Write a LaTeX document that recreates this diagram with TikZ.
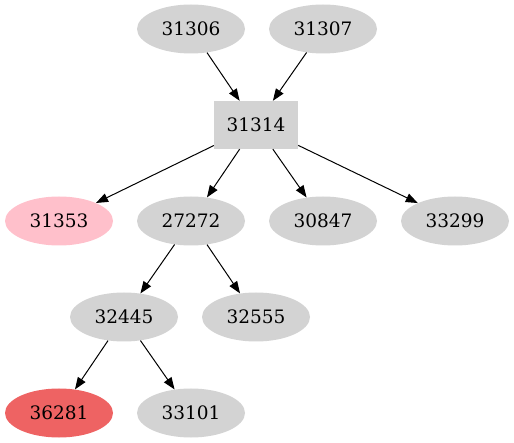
\documentclass[tikz,border=0pt]{standalone}
\usepackage{fontspec}
\setmainfont{DejaVu Serif}
\usetikzlibrary{shapes.geometric,arrows.meta}
\definecolor{ngray}{RGB}{211,211,211}
\definecolor{npink}{RGB}{255,192,203}
\definecolor{nred}{RGB}{238,99,99}
\tikzset{
  ell/.style={ellipse, fill=ngray, minimum width=108pt, minimum height=49pt, inner sep=0pt, font=\fontsize{18.5}{20}\selectfont},
  boxnode/.style={rectangle, fill=ngray, minimum width=84pt, minimum height=48pt, inner sep=0pt, font=\fontsize{18.5}{20}\selectfont},
  edge/.style={-{Triangle[length=12pt,width=9pt]}, line width=1pt}
}
\begin{document}
\begin{tikzpicture}[x=1pt,y=-1pt]
\useasboundingbox (0,0) rectangle (514,443);
\node[ell] (a) at (191,29) {31306};
\node[ell] (b) at (323,29) {31307};
\node[boxnode] (c) at (256,125) {31314};
\node[ell, fill=npink] (d) at (59,221) {31353};
\node[ell] (e) at (191,221) {27272};
\node[ell] (f) at (323,221) {30847};
\node[ell] (g) at (455,221) {33299};
\node[ell] (h) at (124,317) {32445};
\node[ell] (i) at (256,317) {32555};
\node[ell, fill=nred] (j) at (59,413) {36281};
\node[ell] (k) at (191,413) {33101};
\draw[edge] (a) -- (c);
\draw[edge] (b) -- (c);
\draw[edge] (c) -- (d);
\draw[edge] (c) -- (e);
\draw[edge] (c) -- (f);
\draw[edge] (c) -- (g);
\draw[edge] (e) -- (h);
\draw[edge] (e) -- (i);
\draw[edge] (h) -- (j);
\draw[edge] (h) -- (k);
\end{tikzpicture}
\end{document}
